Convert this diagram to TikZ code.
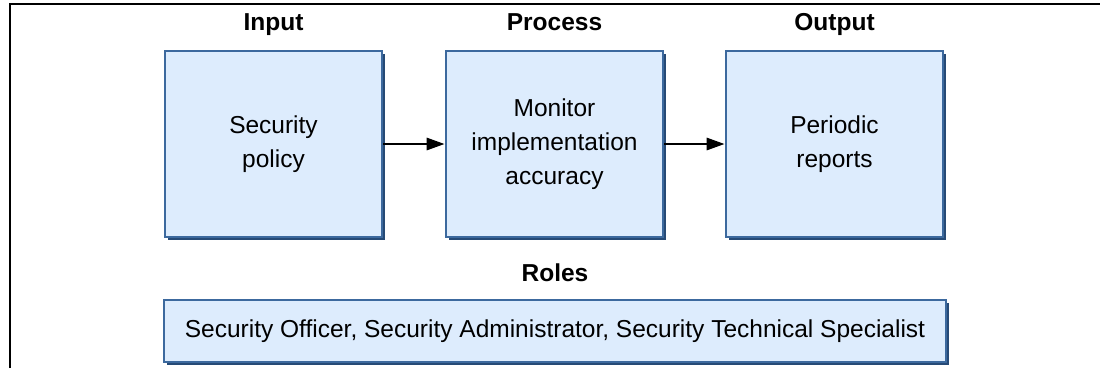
\documentclass[tikz,border=0pt]{standalone}
\usepackage{fontspec}
\setmainfont{Liberation Sans}
\usetikzlibrary{arrows.meta}
\definecolor{boxfill}{RGB}{221,236,253}
\definecolor{boxline}{RGB}{60,105,158}
\definecolor{boxshade}{RGB}{38,74,118}
\tikzset{
  x=1pt, y=-1pt,
  stagebox/.style={minimum width=217pt, minimum height=186pt, fill=boxfill,
    draw=boxline, line width=2.6pt, align=center, inner sep=0pt,
    font=\fontsize{24.5}{34}\selectfont},
  rolebox/.style={minimum width=782pt, minimum height=62pt, fill=boxfill,
    draw=boxline, line width=2.6pt, align=center, inner sep=0pt,
    font=\fontsize{24.5}{28}\selectfont},
  shade/.style={fill=boxshade},
  heading/.style={anchor=base, font=\bfseries\fontsize{24.5}{28}\selectfont},
  flow/.style={line width=2.8pt, -{Triangle[length=18pt,width=12pt]}},
  frame/.style={line width=2pt, black}
}
\begin{document}
\begin{tikzpicture}
\useasboundingbox (0,0) rectangle (1100,368);
% frame on the left and top
\draw[frame] (9.5,368) -- (9.5,4.3) -- (1100,4.3);
% drop shadows
\fill[shade] (167.5,53.5) rectangle (385,240);
\fill[shade] (448.5,53.5) rectangle (666,240);
\fill[shade] (728.5,53.5) rectangle (946,240);
\fill[shade] (166.5,302.5) rectangle (949,364.5);
% stages
\node[stagebox] (in)   at (273.5,144) {Security\\policy};
\node[stagebox] (proc) at (554.5,144) {Monitor\\implementation\\accuracy};
\node[stagebox] (out)  at (834.5,144) {Periodic\\reports};
\node[rolebox]  (roles) at (555,331) {Security Officer, Security Administrator, Security Technical Specialist};
% headings
\node[heading] (hin)   at (273.5,30) {Input};
\node[heading] (hproc) at (554.5,30) {Process};
\node[heading] (hout)  at (834.5,30) {Output};
\node[heading] (hrole) at (555,281) {Roles};
% flow
\draw[flow] (in.east) -- (proc.west);
\draw[flow] (proc.east) -- (out.west);
\end{tikzpicture}
\end{document}
